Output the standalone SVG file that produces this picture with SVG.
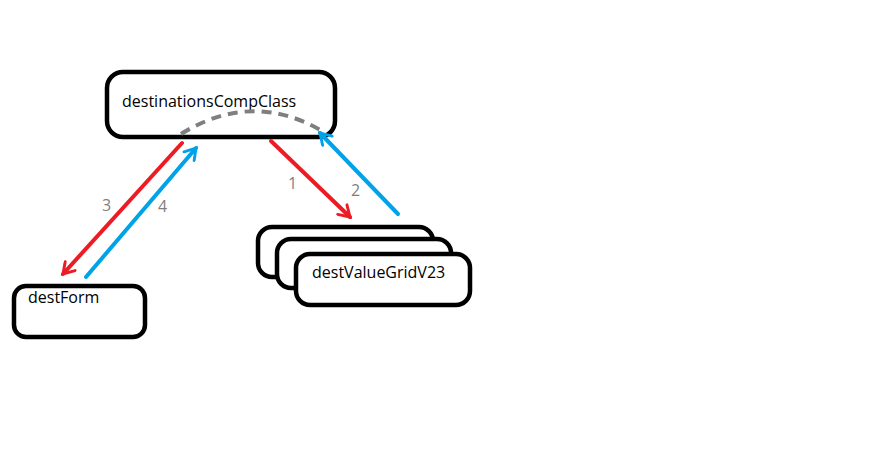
<svg xmlns="http://www.w3.org/2000/svg" width="890" height="470" viewBox="0 0 890 470">
<defs>
<style>
.box{fill:#fff;stroke:#000;stroke-width:4.5}
.lbl{font-family:"Open Sans","Liberation Sans",sans-serif;font-size:16px;fill:#000}
.num{font-family:"Open Sans","Liberation Sans",sans-serif;font-size:16px;fill:#7f7f7f}
.red{stroke:#ed1c24;stroke-width:4;fill:none;stroke-linecap:round}
.blue{stroke:#00a2e8;stroke-width:4;fill:none;stroke-linecap:round}
</style>
<marker id="ar" viewBox="0 0 12 12" refX="10" refY="6" markerWidth="4" markerHeight="4" orient="auto" markerUnits="strokeWidth">
<polyline points="2,1 10,6 2,11" fill="none" stroke="#ed1c24" stroke-width="2.2" stroke-linecap="round"/>
</marker>
<marker id="ab" viewBox="0 0 12 12" refX="10" refY="6" markerWidth="4" markerHeight="4" orient="auto" markerUnits="strokeWidth">
<polyline points="2,1 10,6 2,11" fill="none" stroke="#00a2e8" stroke-width="2.2" stroke-linecap="round"/>
</marker>
</defs>
<rect width="890" height="470" fill="#fff"/>
<g id="destinationsCompClass">
<rect class="box" x="107" y="72" width="228" height="65" rx="16"/>
<text class="lbl" x="122" y="107">destinationsCompClass</text>
</g>
<g id="destForm">
<rect class="box" x="14" y="286" width="131" height="51" rx="12"/>
<text class="lbl" x="28" y="303">destForm</text>
</g>
<g id="destValueGrid-stack">
<rect class="box" x="258" y="227" width="175" height="50" rx="14"/>
<rect class="box" x="277" y="239" width="174" height="49" rx="14"/>
<rect class="box" x="296" y="254" width="174" height="51" rx="14"/>
<text class="lbl" x="312" y="278">destValueGridV23</text>
</g>
<g id="connectors">
<path d="M181,134 Q252,90 322,131" fill="none" stroke="#7f7f7f" stroke-width="4" stroke-dasharray="10,7"/>
<line class="red" x1="271" y1="141" x2="350" y2="217" marker-end="url(#ar)"/>
<line class="blue" x1="398" y1="214" x2="320" y2="133" marker-end="url(#ab)"/>
<line class="red" x1="182" y1="143" x2="63" y2="274" marker-end="url(#ar)"/>
<line class="blue" x1="86" y1="277" x2="196" y2="148" marker-end="url(#ab)"/>
<text class="num" x="288" y="189">1</text>
<text class="num" x="351" y="196">2</text>
<text class="num" x="102" y="211">3</text>
<text class="num" x="158" y="212">4</text>
</g>
</svg>
